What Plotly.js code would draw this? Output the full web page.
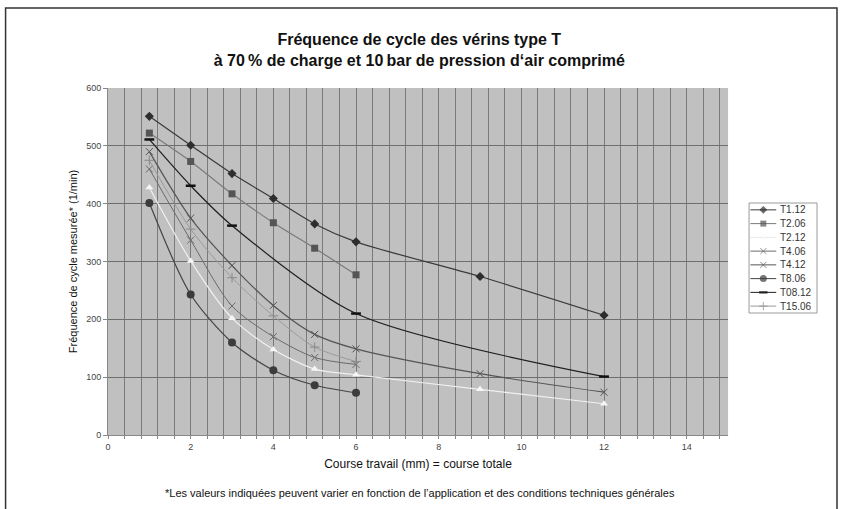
<!DOCTYPE html>
<html>
<head>
<meta charset="utf-8">
<script src="https://cdn.plot.ly/plotly-3.0.1.min.js"></script>
<style>html,body{margin:0;padding:0;background:#fff;}#chart{width:842px;height:509px;}</style>
</head>
<body>
<div id="chart"></div>
<script>
const seriesNames = ["T1.12","T2.06","T2.12","T4.06","T4.12","T8.06","T08.12","T15.06"];
const x12 = [1,2,3,4,5,6,9,12];
const x06 = [1,2,3,4,5,6];
const x0812 = [1,2,3,6,12];
const t112 = [551,501,452,409,365,334,274,207];
const t206 = [522,473,417,367,323,277];
const t212 = [428,301,202,148,114,104,79,54];
const t406 = [460,337,223,170,134,122];
const t412 = [490,375,293,224,174,149,106,74];
const t806 = [401,243,160,112,86,73];
const t0812 = [511,431,362,210,101];
const t1506 = [475,356,272,206,152,127];

const xs = [x12, x06, x12, x06, x12, x06, x0812, x06];
const ys = [t112, t206, t212, t406, t412, t806, t0812, t1506];
const styles = [
  {lc: '#3a3a3a', lw: 1.2, sym: 'diamond', mc: '#2e2e2e', ms: 7},
  {lc: '#7a7a7a', lw: 1.2, sym: 'square', mc: '#555555', ms: 7},
  {lc: '#f0f0f0', lw: 1.2, sym: 'triangle-up', mc: '#f6f6f6', ms: 7},
  {lc: '#6a6a6a', lw: 1, sym: 'x-thin', mc: '#6a6a6a', ms: 7, ml: {width: 1, color: '#6a6a6a'}},
  {lc: '#555555', lw: 1.2, sym: 'x-thin', mc: '#555555', ms: 7, ml: {width: 1, color: '#555555'}},
  {lc: '#444444', lw: 1.2, sym: 'circle', mc: '#3c3c3c', ms: 8},
  {lc: '#1e1e1e', lw: 1.2, sym: 'line-ew', mc: '#111111', ms: 7, ml: {width: 2.5, color: '#111111'}},
  {lc: '#9a9a9a', lw: 1, sym: 'cross-thin', mc: '#8a8a8a', ms: 7, ml: {width: 1, color: '#8a8a8a'}}
];

const data = [];
seriesNames.forEach((name, i) => {
  const s = styles[i];
  data.push({
    type: 'scatter', mode: 'lines+markers', name: name, x: xs[i], y: ys[i],
    xaxis: 'x', yaxis: 'y', showlegend: false,
    line: {color: s.lc, width: s.lw, shape: 'spline', smoothing: 0.8},
    marker: {symbol: s.sym, color: s.mc, size: s.ms, line: s.ml || {width: 0}}
  });
});
// custom compact legend drawn on its own small axis pair
const legendAnnotations = [];
seriesNames.forEach((name, i) => {
  const s = styles[i];
  const ms = s.sym === 'circle' ? 7 : (s.ms - 1);
  data.push({
    type: 'scatter', mode: 'lines+markers', name: name,
    x: [0.02, 0.21, 0.40], y: [i + 1, i + 1, i + 1],
    xaxis: 'x2', yaxis: 'y2', showlegend: false, hoverinfo: 'skip',
    line: {color: s.lc === '#f0f0f0' ? '#e8e8e8' : s.lc, width: 1},
    marker: {symbol: s.sym, color: s.mc, size: [0, ms, 0], line: s.ml || {width: 0}}
  });
  legendAnnotations.push({
    xref: 'x2', yref: 'y2', x: 0.43, y: i + 1, xanchor: 'left', yanchor: 'middle',
    text: name, showarrow: false, font: {size: 10, color: '#333'}
  });
});

const L = 107.5, R = 20, PW = 842 - L - R;
const px = v => (v - L) / PW;
const py = v => (435 - v) / 347;

const layout = {
  width: 842, height: 509,
  margin: {l: L, r: R, t: 88, b: 74},
  paper_bgcolor: '#ffffff',
  plot_bgcolor: 'rgba(0,0,0,0)',
  font: {family: 'Liberation Sans, Arial, sans-serif', color: '#222'},
  showlegend: false,
  title: {
    text: '<b>Fréquence de cycle des vérins type T<br>à 70\u202F% de charge et 10\u202Fbar de pression d‘air comprimé</b>',
    font: {size: 16, color: '#111', family: 'Liberation Sans, Arial, sans-serif'},
    xref: 'paper', x: px(419), xanchor: 'center', y: 0.912, yanchor: 'top'
  },
  xaxis: {
    domain: [0, px(728)],
    range: [0, 15], dtick: 2, tick0: 0,
    showgrid: true, gridcolor: '#7a7a7a', gridwidth: 1,
    minor: {dtick: 0.4, tick0: 0, showgrid: true, gridcolor: '#7a7a7a', gridwidth: 1, ticks: 'outside', ticklen: 3, tickcolor: '#888'},
    ticks: 'outside', ticklen: 3, tickcolor: '#888',
    showline: true, linecolor: '#888', linewidth: 1,
    zeroline: false,
    tickfont: {size: 9, color: '#444'},
    title: {text: 'Course travail (mm) = course totale', font: {size: 12, color: '#111'}, standoff: 8}
  },
  yaxis: {
    domain: [0, 1],
    range: [0, 600], dtick: 100, tick0: 0,
    showgrid: true, gridcolor: '#6e6e6e', gridwidth: 1,
    ticks: 'outside', ticklen: 4, tickcolor: '#888',
    showline: true, linecolor: '#888', linewidth: 1,
    zeroline: false,
    tickfont: {size: 9, color: '#444'},
    title: {text: 'Fréquence de cycle mesurée* (1/min)', font: {size: 11, color: '#111'}, standoff: 6}
  },
  xaxis2: {
    domain: [px(749), px(817)], range: [0, 1], anchor: 'y2',
    visible: false, fixedrange: true
  },
  yaxis2: {
    domain: [py(313), py(203)], range: [8.5, 0.5], anchor: 'x2',
    visible: false, fixedrange: true
  },
  annotations: [{
    xref: 'paper', yref: 'paper', x: px(420), y: -0.143, xanchor: 'center', yanchor: 'top',
    text: '*Les valeurs indiquées peuvent varier en fonction de l’application et des conditions techniques générales',
    showarrow: false, font: {size: 11, color: '#111'}
  }].concat(legendAnnotations),
  shapes: [
    {type: 'rect', xref: 'x domain', yref: 'y domain', x0: 0, x1: 1, y0: 0, y1: 1,
     line: {width: 0}, fillcolor: '#c0c0c0', layer: 'below'},
    {type: 'rect', xref: 'x2 domain', yref: 'y2 domain', x0: 0, x1: 1, y0: 0, y1: 1,
     line: {color: '#9a9a9a', width: 1}, fillcolor: '#ffffff', layer: 'below'},
    {type: 'rect', xref: 'paper', yref: 'paper',
     x0: px(5), x1: px(837), y0: -0.3, y1: py(8),
     line: {color: '#333', width: 1.5}, fillcolor: 'rgba(0,0,0,0)', layer: 'below'}
  ]
};
Plotly.newPlot('chart', data, layout, {displayModeBar: false, staticPlot: true});
</script>
</body>
</html>
